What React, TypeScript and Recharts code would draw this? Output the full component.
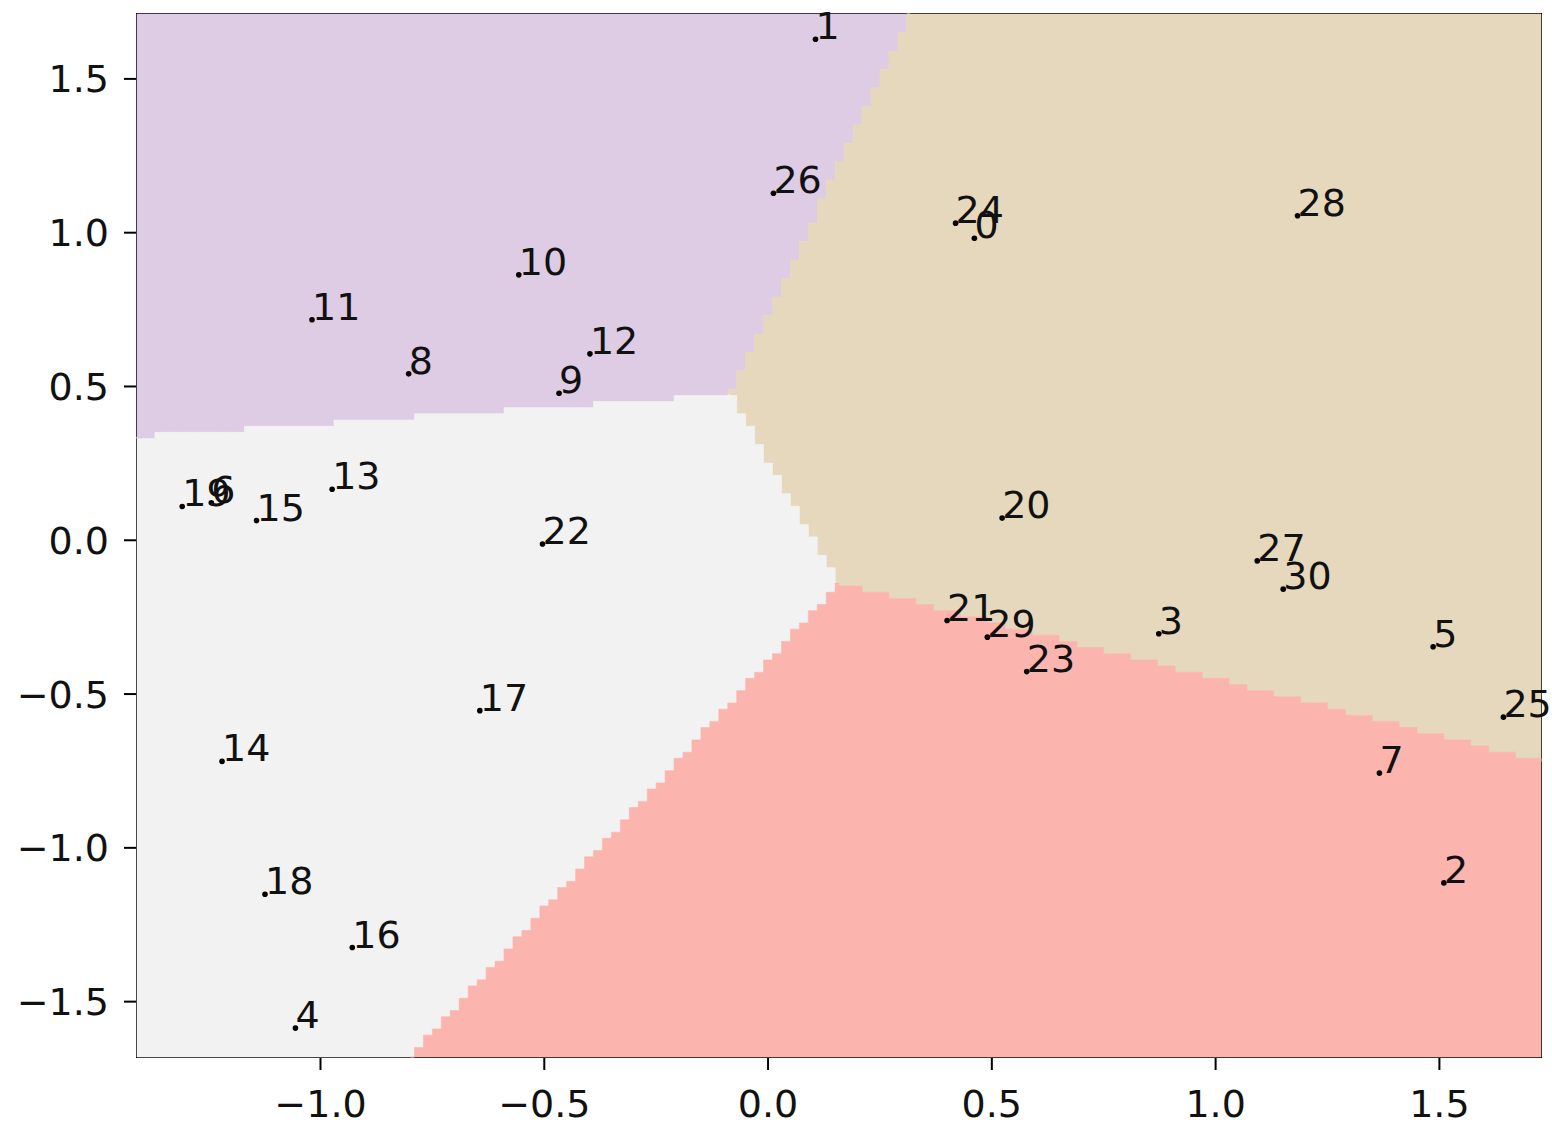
import React from 'react';
import { ComposedChart, Scatter, XAxis, YAxis, ReferenceArea } from 'recharts';

// Sample coordinates (projected feature space) and their index labels
const pointX = [
  0.461, 0.106, 1.51, 0.873, -1.056, 1.486, -1.244, 1.366, -0.803, -0.467,
  -0.557, -1.019, -0.398, -0.974, -1.22, -1.143, -0.929, -0.644, -1.124, -1.309,
  0.523, 0.4, -0.504, 0.578, 0.419, 1.643, 0.012, 1.093, 1.183, 0.49, 1.151,
];
const pointY = [
  0.982, 1.629, -1.114, -0.304, -1.586, -0.346, 0.122, -0.757, 0.541, 0.478,
  0.863, 0.717, 0.606, 0.166, -0.719, 0.064, -1.324, -0.554, -1.151, 0.11,
  0.072, -0.261, -0.012, -0.427, 1.031, -0.575, 1.128, -0.067, 1.055, -0.315, -0.159,
];
const pointLabels = pointX.map((_, i) => String(i));

// Axis extents and ticks
const xDomain = [-1.41, 1.727];
const yDomain = [-1.68, 1.711];
const xTicks = [-1.0, -0.5, 0.0, 0.5, 1.0, 1.5];
const yTicks = [-1.5, -1.0, -0.5, 0.0, 0.5, 1.0, 1.5];

// Mesh step of the decision-surface grid (data units)
const meshStep = 0.02;

// Cluster decision regions (polygon vertices in data space)
const purpleRegion = [
  { x: -1.41, y: 1.711 }, { x: 0.318, y: 1.711 }, { x: -0.084, y: 0.473 }, { x: -1.41, y: 0.336 },
];
const tanRegion = [
  { x: 0.318, y: 1.711 }, { x: 1.727, y: 1.711 }, { x: 1.727, y: -0.719 },
  { x: 0.158, y: -0.139 }, { x: -0.084, y: 0.473 },
];
const grayRegion = [
  { x: -1.41, y: 0.336 }, { x: -0.084, y: 0.473 }, { x: 0.158, y: -0.139 },
  { x: -0.799, y: -1.68 }, { x: -1.41, y: -1.68 },
];
const pinkRegion = [
  { x: 0.158, y: -0.139 }, { x: 1.727, y: -0.719 }, { x: 1.727, y: -1.68 }, { x: -0.799, y: -1.68 },
];

const regionColors = {
  purple: '#decbe4',
  tan: '#e5d8bd',
  gray: '#f2f2f2',
  pink: '#fbb4ae',
};

const points = pointX.map((x, i) => ({ x, y: pointY[i], label: pointLabels[i] }));

const FONT = 'DejaVu Sans, Verdana, sans-serif';
const FONT_SIZE = 38;

type P = { x: number; y: number };

// Staircase following the mesh cells along a boundary between two regions.
// Built in a canonical direction so neighbouring regions share the identical edge.
// Returns the points after p, ending with q.
function staircase(p: P, q: P, gx: number, gy: number, x0: number, y0: number): P[] {
  const vertical = Math.abs(q.y - p.y) / gy >= Math.abs(q.x - p.x) / gx;
  const rev = vertical ? p.y > q.y : p.x > q.x;
  const a = rev ? q : p;
  const b = rev ? p : q;
  const out: P[] = [];
  if (vertical) {
    const j0 = Math.floor((a.y - y0) / gy);
    const j1 = Math.floor((b.y - y0) / gy);
    for (let j = j0; j <= j1; j++) {
      const top = Math.max(a.y, y0 + j * gy);
      const bot = Math.min(b.y, y0 + (j + 1) * gy);
      const yc = y0 + (j + 0.5) * gy;
      const xl = a.x + ((b.x - a.x) * (yc - a.y)) / (b.y - a.y || 1);
      const xe = x0 + gx * Math.ceil((xl - x0) / gx - 0.5);
      out.push({ x: xe, y: top }, { x: xe, y: bot });
    }
  } else {
    const i0 = Math.floor((a.x - x0) / gx);
    const i1 = Math.floor((b.x - x0) / gx);
    for (let i = i0; i <= i1; i++) {
      const left = Math.max(a.x, x0 + i * gx);
      const right = Math.min(b.x, x0 + (i + 1) * gx);
      const xc = x0 + (i + 0.5) * gx;
      const yl = a.y + ((b.y - a.y) * (xc - a.x)) / (b.x - a.x || 1);
      const ye = y0 + gy * Math.ceil((yl - y0) / gy - 0.5);
      out.push({ x: left, y: ye }, { x: right, y: ye });
    }
  }
  if (rev) out.reverse();
  out.push(q);
  return out;
}

// Filled region drawn through the scatter's joint-line points (library-scaled pixels)
const RegionPolygon = (props: any) => {
  const pts = (props.points || []) as P[];
  const data = props.region as P[];
  if (!pts.length || !data) return null;
  // pixel scale recovered from the library-positioned vertices
  let ax = 0, bx = 0, ay = 0, by = 0;
  for (let i = 0; i < data.length; i++) {
    for (let k = i + 1; k < data.length; k++) {
      if (!ax && data[i].x !== data[k].x) {
        ax = (pts[i].x - pts[k].x) / (data[i].x - data[k].x);
        bx = pts[i].x - ax * data[i].x;
      }
      if (!ay && data[i].y !== data[k].y) {
        ay = (pts[i].y - pts[k].y) / (data[i].y - data[k].y);
        by = pts[i].y - ay * data[i].y;
      }
    }
  }
  const gx = Math.abs(ax * meshStep);
  const gy = Math.abs(ay * meshStep);
  const x0 = ax * xDomain[0] + bx;
  const y0 = ay * yDomain[1] + by;
  const onFrame = (d: P, e: P) =>
    (d.x === e.x && (d.x === xDomain[0] || d.x === xDomain[1])) ||
    (d.y === e.y && (d.y === yDomain[0] || d.y === yDomain[1]));
  const path: P[] = [pts[0]];
  for (let i = 0; i < pts.length; i++) {
    const n = (i + 1) % pts.length;
    if (onFrame(data[i], data[n])) path.push(pts[n]);
    else path.push(...staircase(pts[i], pts[n], gx, gy, x0, y0));
  }
  const d = path.map((p, i) => `${i === 0 ? 'M' : 'L'}${p.x.toFixed(2)},${p.y.toFixed(2)}`).join(' ') + ' Z';
  return <path d={d} fill={props.color} stroke={props.color} strokeWidth={0.6} />;
};

const PointMark = (props: any) => {
  const { cx, cy, payload } = props;
  if (cx == null || cy == null) return <g />;
  return (
    <g>
      <circle cx={cx} cy={cy} r={2.8} fill="#000" />
      <text x={cx} y={cy} textAnchor="start" fontFamily={FONT} fontSize={FONT_SIZE} fill="#111">
        {payload.label}
      </text>
    </g>
  );
};

const fmt = (v: number) => (v < 0 ? '\u2212' + Math.abs(v).toFixed(1) : v.toFixed(1));

const noShape = () => <g />;

export default function App() {
  return (
    <div style={{ position: 'absolute', left: 0, top: 0, width: 1552, height: 1127, background: '#fff' }}>
      <ComposedChart width={1552} height={1127} margin={{ top: 14, right: 11, bottom: 0, left: 0 }}>
        <XAxis
          type="number"
          dataKey="x"
          domain={xDomain}
          ticks={xTicks}
          height={70}
          tickFormatter={fmt}
          tickSize={13}
          tickMargin={20}
          stroke="#000"
          tickLine={{ stroke: '#000', strokeWidth: 2 }}
          axisLine={{ stroke: '#000', strokeWidth: 2 }}
          tick={{ fill: '#111', fontSize: FONT_SIZE, fontFamily: FONT }}
        />
        <YAxis
          type="number"
          dataKey="y"
          domain={yDomain}
          ticks={yTicks}
          width={137}
          tickFormatter={fmt}
          tickSize={13}
          tickMargin={15}
          stroke="#000"
          tickLine={{ stroke: '#000', strokeWidth: 2 }}
          axisLine={{ stroke: '#000', strokeWidth: 2 }}
          tick={{ fill: '#111', fontSize: FONT_SIZE, fontFamily: FONT }}
        />
        <Scatter data={purpleRegion} line={<RegionPolygon color={regionColors.purple} region={purpleRegion} />} lineType="joint" shape={noShape} isAnimationActive={false} />
        <Scatter data={tanRegion} line={<RegionPolygon color={regionColors.tan} region={tanRegion} />} lineType="joint" shape={noShape} isAnimationActive={false} />
        <Scatter data={grayRegion} line={<RegionPolygon color={regionColors.gray} region={grayRegion} />} lineType="joint" shape={noShape} isAnimationActive={false} />
        <Scatter data={pinkRegion} line={<RegionPolygon color={regionColors.pink} region={pinkRegion} />} lineType="joint" shape={noShape} isAnimationActive={false} />
        <Scatter data={points} shape={PointMark} isAnimationActive={false} />
        <ReferenceArea
          x1={xDomain[0]}
          x2={xDomain[1]}
          y1={yDomain[0]}
          y2={yDomain[1]}
          fill="none"
          fillOpacity={0}
          stroke="#000"
          strokeWidth={2}
          ifOverflow="visible"
        />
      </ComposedChart>
    </div>
  );
}
